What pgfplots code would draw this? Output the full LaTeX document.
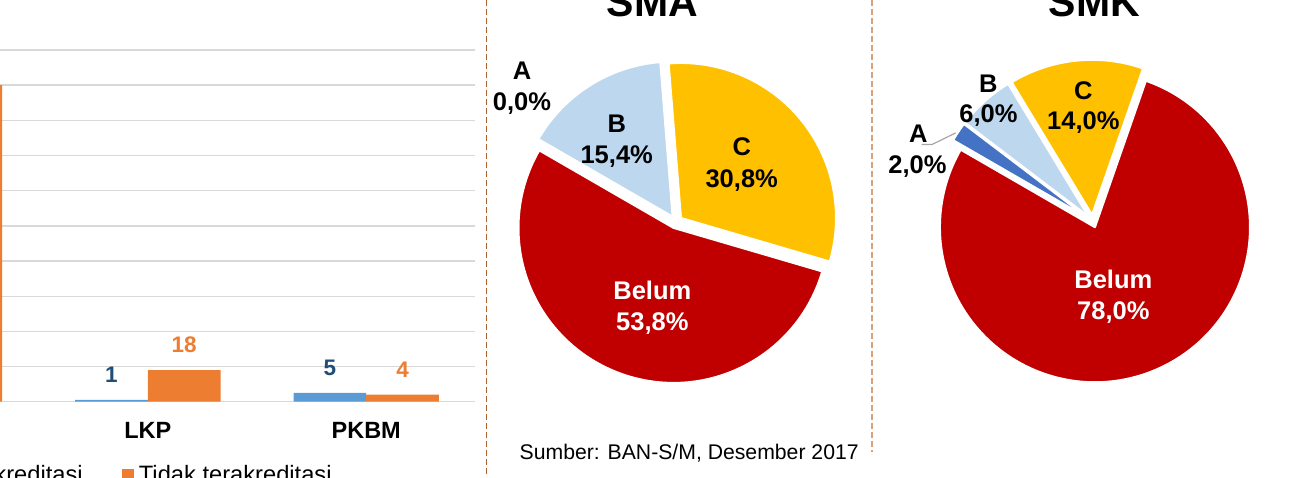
\documentclass[border=0pt]{standalone}
\usepackage{fontspec}
\setmainfont{Liberation Sans}
\usepackage{pgfplots}
\usepackage{pgfplotstable}
\pgfplotsset{compat=1.18}
\usetikzlibrary{calc}

\definecolor{barblue}{HTML}{5B9BD5}
\definecolor{barorange}{HTML}{ED7D31}
\definecolor{lblblue}{HTML}{1F4E79}
\definecolor{gridgray}{HTML}{D9D9D9}
\definecolor{sepbrown}{HTML}{B0602E}
\definecolor{seplight}{HTML}{D6A27C}
\definecolor{colA}{HTML}{4472C4}
\definecolor{colB}{HTML}{BDD7EE}
\definecolor{colC}{HTML}{FFC000}
\definecolor{colBelum}{HTML}{C00000}

% bar chart: jumlah lembaga (first group is cut off at the left edge)
\pgfplotstableread{
x akr tidak
0 nan 180
1 1   18
2 5   4
}\barsdata

% pie slices, clockwise from 150 deg: A, B, C, Belum (percent)
\def\smaA{0}   \def\smaB{15.4} \def\smaC{30.8} \def\smaBelum{53.8}
\def\smkA{2}   \def\smkB{6}    \def\smkC{14}   \def\smkBelum{78}

\def\pieR{77.5pt}
\newcommand\pieslice[2]{%
  \pgfmathsetmacro\pieE{\pieS-3.6*#1}%
  \pgfmathsetmacro\pieM{(\pieS+\pieE)/2}%
  \edef\pietmp{\noexpand\fill[#2, draw=white, line width=1pt, line join=round]
    ([shift={(\pieM:3.2pt)}]axis cs:0,0) -- ++(\pieS:\pieR)
    arc[start angle=\pieS, end angle=\pieE, radius=\pieR] -- cycle;}%
  \pietmp
  \xdef\pieS{\pieE}%
}

\tikzset{
  lbl/.style={anchor=base, inner sep=0pt, font=\bfseries\fontsize{12.75}{15}\selectfont},
}

\begin{document}
\begin{tikzpicture}[x=0.5pt, y=-0.5pt]
\useasboundingbox (0,0) rectangle (1304,477);
\clip (0,0) rectangle (1304,477);
\coordinate (barorig) at (-179.8,401.7);
\coordinate (smaorig) at (676,222);
\coordinate (smkorig) at (1092.7,221.2);

% ---- bar chart ----
\begin{axis}[
  at={(barorig)}, anchor=south west,
  scale only axis, width=327.6pt, height=175.85pt,
  xmin=-0.5, xmax=2.5, ymin=0, ymax=200,
  ybar=0pt, bar width=36.35pt,
  xtick={0,1,2}, xticklabels={,LKP,PKBM},
  ytick={0,20,...,200}, yticklabel={\phantom{0}},
  ymajorgrids, grid style={gridgray, line width=0.7pt},
  axis line style={draw=none},
  major tick length=0pt,
  xticklabel style={font=\bfseries\fontsize{11.75}{14}\selectfont, anchor=base, yshift=-18.3pt, inner sep=0pt},
  nodes near coords,
  nodes near coords style={font=\bfseries\fontsize{11.25}{13}\selectfont, anchor=south, inner sep=0pt, yshift=8.3pt},
  /pgf/number format/assume math mode=true,
  clip=false,
  legend columns=2,
  legend image code/.code={\path[#1] (0pt,-3pt) rectangle (6pt,3pt);},
  legend style={draw=none, fill=none, inner sep=0pt, at={(0.1687,-0.2084)}, anchor=west,
    font=\fontsize{11.85}{14}\selectfont, nodes={inner sep=0pt},
    /tikz/every odd column/.append style={column sep=2.6pt},
    /tikz/every even column/.append style={column sep=19.5pt}},
]
\addplot[fill=barblue, draw=none, every node near coord/.append style={text=lblblue}]
  table[x=x, y=akr]{\barsdata};
\addplot[fill=barorange, draw=none, every node near coord/.append style={text=barorange}]
  table[x=x, y=tidak]{\barsdata};
\legend{Terakreditasi, Tidak terakreditasi}
\end{axis}

% ---- separators ----
\draw[sepbrown, line width=0.8pt, dash pattern=on 3pt off 1.5pt] (486.5,0) -- (486.5,477);
\draw[seplight, line width=0.8pt, dash pattern=on 3pt off 1.5pt] (872,0) -- (872,452);

% ---- SMA pie ----
\begin{axis}[hide axis, at={(smaorig)}, anchor=center, x=0.5pt, y=0.5pt,
  xmin=-170, xmax=170, ymin=-170, ymax=170, clip=false]
\gdef\pieS{150}
\pieslice{\smaA}{colA}
\pieslice{\smaB}{colB}
\pieslice{\smaC}{colC}
\pieslice{\smaBelum}{colBelum}
\end{axis}

% ---- SMK pie ----
\begin{axis}[hide axis, at={(smkorig)}, anchor=center, x=0.5pt, y=0.5pt,
  xmin=-170, xmax=170, ymin=-170, ymax=170, clip=false]
\gdef\pieS{150}
\pieslice{\smkA}{colA}
\pieslice{\smkB}{colB}
\pieslice{\smkC}{colC}
\pieslice{\smkBelum}{colBelum}
\end{axis}

% titles
\node[anchor=base, inner sep=0pt, font=\bfseries\fontsize{20.5}{24}\selectfont] at (652.5,16.7) {SMA};
\node[anchor=base, inner sep=0pt, font=\bfseries\fontsize{20.5}{24}\selectfont] at (1094.5,16.7) {SMK};

% SMA labels
\node[lbl] at (522,79.7) {A};
\node[lbl] at (522,110.7) {0,0\%};
\node[lbl] at (616.7,132.3) {B};
\node[lbl] at (616.7,163) {15,4\%};
\node[lbl] at (741.7,155.7) {C};
\node[lbl] at (741.7,187.3) {30,8\%};
\node[lbl, text=white] at (652.3,299) {Belum};
\node[lbl, text=white] at (652.3,330.7) {53,8\%};

% SMK labels
\draw[gray!70, line width=0.6pt] (921.7,144.5) -- (932,144.5) -- (955.5,133);
\node[lbl] at (918.3,142.3) {A};
\node[lbl] at (917.5,173) {2,0\%};
\node[lbl] at (988.3,92.3) {B};
\node[lbl] at (988.5,122.3) {6,0\%};
\node[lbl] at (1083.3,99) {C};
\node[lbl] at (1083.3,129.7) {14,0\%};
\node[lbl, text=white] at (1113.3,288.3) {Belum};
\node[lbl, text=white] at (1113.3,319) {78,0\%};

% source
\node[anchor=base west, inner sep=0pt, font=\fontsize{10.6}{13}\selectfont] at (519.3,459) {Sumber: BAN-S/M, Desember 2017};
\end{tikzpicture}
\end{document}
